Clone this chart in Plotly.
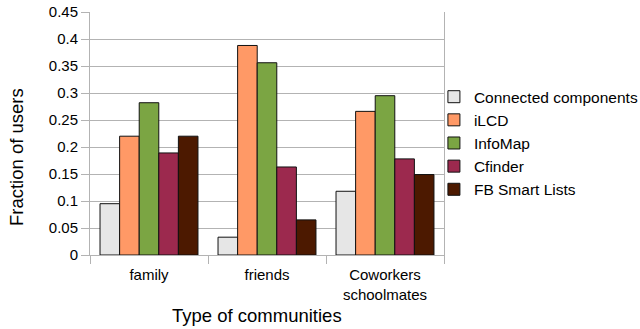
import plotly.graph_objects as go

categories = ["family", "friends", "Coworkers<br>schoolmates"]
series_names = ["Connected components", "iLCD", "InfoMap", "Cfinder", "FB Smart Lists"]
connected = [0.095, 0.033, 0.118]
ilcd = [0.220, 0.388, 0.266]
infomap = [0.282, 0.356, 0.295]
cfinder = [0.189, 0.163, 0.178]
fb_lists = [0.220, 0.065, 0.149]
y_ticks = [0, 0.05, 0.1, 0.15, 0.2, 0.25, 0.3, 0.35, 0.4, 0.45]
y_tick_labels = ["0", "0.05", "0.1", "0.15", "0.2", "0.25", "0.3", "0.35", "0.4", "0.45"]
x_title = "Type of communities"
y_title = "Fraction of users"

colors = ["#e6e6e6", "#ff9966", "#7ba543", "#9c294e", "#4c1900"]
values = [connected, ilcd, infomap, cfinder, fb_lists]

fig = go.Figure()
for name, vals, col in zip(series_names, values, colors):
    fig.add_trace(go.Bar(
        name=name, x=categories, y=vals,
        marker=dict(color=col, line=dict(color="#111111", width=1)),
    ))

font = "Liberation Sans, Arial, sans-serif"
fig.update_layout(
    width=640, height=329,
    margin=dict(l=90, r=196, t=12, b=74, autoexpand=False),
    paper_bgcolor="white", plot_bgcolor="white",
    barmode="group", bargap=0.17, bargroupgap=0,
    font=dict(family=font, size=15, color="#000000"),
    legend=dict(
        xref="container", yref="container",
        x=0.678, y=0.565, xanchor="left", yanchor="middle",
        font=dict(size=15.5, family=font),
        bgcolor="rgba(0,0,0,0)",
        tracegroupgap=0, itemwidth=30,
    ),
    xaxis=dict(
        tickson="boundaries", ticks="outside", ticklen=8, tickcolor="#b3b3b3",
        showline=True, linecolor="#b3b3b3", linewidth=1,
        showgrid=False, mirror=False,
        ticklabelstandoff=6,
        tickfont=dict(size=15),
    ),
    yaxis=dict(
        range=[0, 0.45], tickvals=y_ticks, ticktext=y_tick_labels,
        ticks="outside", ticklen=8, tickcolor="#b3b3b3",
        showline=True, linecolor="#b3b3b3", linewidth=1, mirror=True,
        showgrid=True, gridcolor="#b3b3b3", gridwidth=1,
        zeroline=False,
        tickfont=dict(size=15),
    ),
    annotations=[
        dict(text=x_title, xref="paper", yref="paper", x=0.472, y=-0.251,
             xanchor="center", yanchor="middle", showarrow=False,
             font=dict(size=18.5, family=font)),
        dict(text=y_title, xref="paper", yref="paper", x=-0.209, y=0.403,
             xanchor="center", yanchor="middle", showarrow=False, textangle=-90,
             font=dict(size=18.5, family=font)),
    ],
)

fig.write_html("out.html")
